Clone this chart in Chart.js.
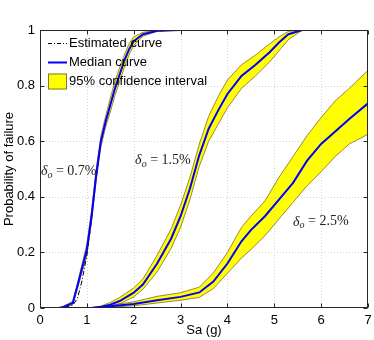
<!DOCTYPE html>
<html>
<head>
<meta charset="utf-8">
<script src="https://cdn.jsdelivr.net/npm/chart.js@4.4.0/dist/chart.umd.min.js"></script>
<style>
  html, body { margin: 0; padding: 0; background: #fff; }
  #wrap { width: 374px; height: 340px; position: relative; }
</style>
</head>
<body>
<div id="wrap"><canvas id="chart"></canvas></div>
<script>
/* ===== Data ===== */
// delta_o = 0.7 %
const sa1 = [0.1, 0.4, 0.5, 0.7, 0.8, 0.9, 1.0, 1.1, 1.2, 1.3, 1.4, 1.5, 1.6, 1.7, 1.8, 1.9, 2.0, 2.2, 2.5, 3.0, 7.0];
const med1 = [0, 0, 0.004, 0.018, 0.08, 0.145, 0.21, 0.33, 0.48, 0.60, 0.67, 0.73, 0.79, 0.84, 0.89, 0.93, 0.96, 0.985, 0.997, 1, 1];
const up1 = [0, 0, 0.006, 0.024, 0.09, 0.16, 0.23, 0.35, 0.50, 0.62, 0.69, 0.755, 0.815, 0.865, 0.91, 0.95, 0.975, 0.992, 0.999, 1, 1];
const lo1 = [0, 0, 0.002, 0.013, 0.07, 0.13, 0.19, 0.31, 0.46, 0.58, 0.65, 0.705, 0.765, 0.815, 0.865, 0.91, 0.945, 0.978, 0.995, 1, 1];
const est1 = [0, 0, 0.001, 0.01, 0.035, 0.10, 0.19, 0.32, 0.47, 0.60, 0.67, 0.73, 0.79, 0.84, 0.89, 0.93, 0.96, 0.985, 0.997, 1, 1];

// delta_o = 1.5 %
const sa2 = [0.1, 1.1, 1.3, 1.5, 1.7, 2.0, 2.2, 2.5, 2.8, 3.0, 3.2, 3.4, 3.6, 3.8, 4.0, 4.3, 4.6, 4.9, 5.1, 5.3, 5.6, 7.0];
const med2 = [0, 0, 0.004, 0.012, 0.025, 0.055, 0.085, 0.16, 0.25, 0.33, 0.43, 0.55, 0.645, 0.71, 0.77, 0.835, 0.875, 0.92, 0.955, 0.985, 1, 1];
const up2 = [0, 0, 0.007, 0.02, 0.038, 0.072, 0.105, 0.19, 0.285, 0.37, 0.47, 0.59, 0.69, 0.76, 0.82, 0.875, 0.91, 0.95, 0.975, 0.995, 1, 1];
const lo2 = [0, 0, 0.002, 0.006, 0.015, 0.04, 0.068, 0.13, 0.215, 0.29, 0.39, 0.51, 0.60, 0.66, 0.72, 0.79, 0.835, 0.885, 0.925, 0.965, 1, 1];

// delta_o = 2.5 %
const sa3 = [0.1, 1.1, 1.5, 2.0, 2.5, 3.0, 3.4, 3.7, 4.0, 4.3, 4.5, 4.8, 5.1, 5.4, 5.7, 6.0, 6.3, 6.6, 7.0];
const med3 = [0, 0, 0.006, 0.014, 0.028, 0.04, 0.056, 0.095, 0.16, 0.24, 0.28, 0.33, 0.39, 0.45, 0.53, 0.59, 0.635, 0.68, 0.736];
const up3 = [0, 0, 0.01, 0.022, 0.042, 0.055, 0.075, 0.126, 0.20, 0.29, 0.33, 0.385, 0.47, 0.545, 0.62, 0.685, 0.745, 0.79, 0.855];
const lo3 = [0, 0, 0.003, 0.008, 0.018, 0.028, 0.038, 0.07, 0.125, 0.18, 0.21, 0.26, 0.32, 0.38, 0.44, 0.49, 0.545, 0.59, 0.625];

const xTicks = [0, 1, 2, 3, 4, 5, 6, 7];
const yTicks = [0, 0.2, 0.4, 0.6, 0.8, 1];

const legendLabels = ['Estimated curve', 'Median curve', '95% confidence interval'];
// text labels next to the curves: [Sa, P, value]
const curveNotes = [[0.02, 0.49, '0.7%'], [2.03, 0.532, '1.5%'], [5.40, 0.31, '2.5%']];

/* ===== Styles ===== */
const blue = '#0000ff';
const yellow = '#ffff00';
const bandEdge = '#86672a';
const axisColor = '#262626';
const sansFont = "'Liberation Sans', Arial, sans-serif";
const serifFont = "'Liberation Serif', 'Times New Roman', serif";

const pts = (xs, ys) => xs.map((v, i) => ({ x: v, y: ys[i] }));

function medianSet(xs, ys) {
  return { data: pts(xs, ys), borderColor: blue, borderWidth: 2, fill: false };
}
function upperSet(xs, ys) {
  return { data: pts(xs, ys), borderColor: bandEdge, borderWidth: 0.8, backgroundColor: yellow, fill: '+1' };
}
function lowerSet(xs, ys) {
  return { data: pts(xs, ys), borderColor: bandEdge, borderWidth: 0.8, fill: false };
}

/* ===== Decorations: dotted grid, frame, inward ticks, legend, notes ===== */
const decor = {
  id: 'decor',
  beforeDatasetsDraw(chart) {
    const { ctx, chartArea: a, scales: { x, y } } = chart;
    ctx.save();
    ctx.strokeStyle = '#d4d4d4';
    ctx.lineWidth = 1;
    ctx.setLineDash([1, 2]);
    xTicks.slice(1, -1).forEach(v => {
      const px = Math.round(x.getPixelForValue(v)) + 0.5;
      ctx.beginPath(); ctx.moveTo(px, a.top); ctx.lineTo(px, a.bottom); ctx.stroke();
    });
    yTicks.slice(1, -1).forEach(v => {
      const py = Math.round(y.getPixelForValue(v)) + 0.5;
      ctx.beginPath(); ctx.moveTo(a.left, py); ctx.lineTo(a.right, py); ctx.stroke();
    });
    ctx.restore();
  },
  afterDraw(chart) {
    const { ctx, chartArea: a, scales: { x, y } } = chart;
    ctx.save();

    // frame + ticks pointing inward
    ctx.strokeStyle = axisColor;
    ctx.lineWidth = 1;
    const L = Math.round(a.left) + 0.5, R = Math.round(a.right) - 0.5;
    const T = Math.round(a.top) + 0.5, B = Math.round(a.bottom) - 0.5;
    ctx.strokeRect(L, T, R - L, B - T);
    const tl = 4;
    ctx.beginPath();
    xTicks.forEach(v => {
      const px = Math.round(x.getPixelForValue(v)) + 0.5;
      ctx.moveTo(px, B); ctx.lineTo(px, B - tl);
      ctx.moveTo(px, T); ctx.lineTo(px, T + tl);
    });
    yTicks.forEach(v => {
      const py = Math.round(y.getPixelForValue(v)) + 0.5;
      ctx.moveTo(L, py); ctx.lineTo(L + tl, py);
      ctx.moveTo(R, py); ctx.lineTo(R - tl, py);
    });
    ctx.stroke();

    // legend, top left inside the axes
    const lx = a.left + 8, sw = 19, tx = lx + sw + 2;
    const rows = [a.top + 13, a.top + 32.5, a.top + 51.5];
    ctx.font = '13px ' + sansFont;
    ctx.textBaseline = 'middle';
    ctx.fillStyle = '#000';

    ctx.strokeStyle = '#000';
    ctx.lineWidth = 1;
    ctx.setLineDash([4, 2, 1, 2]);
    ctx.beginPath(); ctx.moveTo(lx, rows[0] + 0.5); ctx.lineTo(lx + sw, rows[0] + 0.5); ctx.stroke();
    ctx.setLineDash([]);
    ctx.fillText(legendLabels[0], tx, rows[0]);

    ctx.strokeStyle = blue;
    ctx.lineWidth = 2;
    ctx.beginPath(); ctx.moveTo(lx, rows[1]); ctx.lineTo(lx + sw, rows[1]); ctx.stroke();
    ctx.fillText(legendLabels[1], tx, rows[1]);

    ctx.fillStyle = yellow;
    ctx.fillRect(lx, rows[2] - 8, sw, 16);
    ctx.strokeStyle = '#7a7a40';
    ctx.lineWidth = 1;
    ctx.strokeRect(lx + 0.5, rows[2] - 7.5, sw - 1, 15);
    ctx.fillStyle = '#000';
    ctx.fillText(legendLabels[2], tx, rows[2]);

    // delta_o notes
    ctx.fillStyle = '#222';
    curveNotes.forEach(([sx, p, txt]) => {
      let px = x.getPixelForValue(sx);
      const py = y.getPixelForValue(p);
      ctx.font = 'italic 14px ' + serifFont;
      ctx.fillText('δ', px, py);
      px += ctx.measureText('δ').width;
      ctx.font = 'italic 10px ' + serifFont;
      ctx.fillText('o', px, py + 4);
      px += ctx.measureText('o').width;
      ctx.font = '14px ' + serifFont;
      ctx.fillText(' = ' + txt, px, py);
    });

    ctx.restore();
  }
};

new Chart(document.getElementById('chart'), {
  type: 'line',
  data: {
    datasets: [
      medianSet(sa1, med1),
      medianSet(sa2, med2),
      medianSet(sa3, med3),
      { data: pts(sa1, est1), borderColor: '#000', borderWidth: 1, borderDash: [5, 2, 1, 2], fill: false },
      upperSet(sa1, up1), lowerSet(sa1, lo1),
      upperSet(sa2, up2), lowerSet(sa2, lo2),
      upperSet(sa3, up3), lowerSet(sa3, lo3)
    ]
  },
  options: {
    responsive: true,
    maintainAspectRatio: false,
    animation: false,
    devicePixelRatio: 1,
    layout: { padding: { top: 30, right: 6, left: 0, bottom: 0 } },
    elements: { point: { radius: 0 }, line: { tension: 0 } },
    plugins: {
      legend: { display: false },
      tooltip: { enabled: false },
      filler: { drawTime: 'beforeDatasetsDraw' }
    },
    scales: {
      x: {
        type: 'linear',
        min: 0, max: 7,
        afterBuildTicks: s => { s.ticks = xTicks.map(v => ({ value: v })); },
        afterFit: s => { s.height = 32; s.paddingLeft = 0; s.paddingRight = 0; },
        grid: { display: false, drawTicks: false },
        border: { display: false },
        ticks: { color: '#000', padding: 5, font: { family: sansFont, size: 13 }, callback: v => String(v) },
        title: { display: true, text: 'Sa (g)', color: '#000', padding: 2, font: { family: sansFont, size: 13 } }
      },
      y: {
        type: 'linear',
        min: 0, max: 1,
        afterBuildTicks: s => { s.ticks = yTicks.map(v => ({ value: v })); },
        afterFit: s => { s.width = 40; s.paddingTop = 0; s.paddingBottom = 0; },
        grid: { display: false, drawTicks: false },
        border: { display: false },
        ticks: {
          color: '#000', padding: 5, font: { family: sansFont, size: 13 },
          callback: v => (v === 0 || v === 1) ? String(v) : v.toFixed(1)
        },
        title: { display: true, text: 'Probability of failure', color: '#000', padding: 2, font: { family: sansFont, size: 13 } }
      }
    }
  },
  plugins: [decor]
});
</script>
</body>
</html>
